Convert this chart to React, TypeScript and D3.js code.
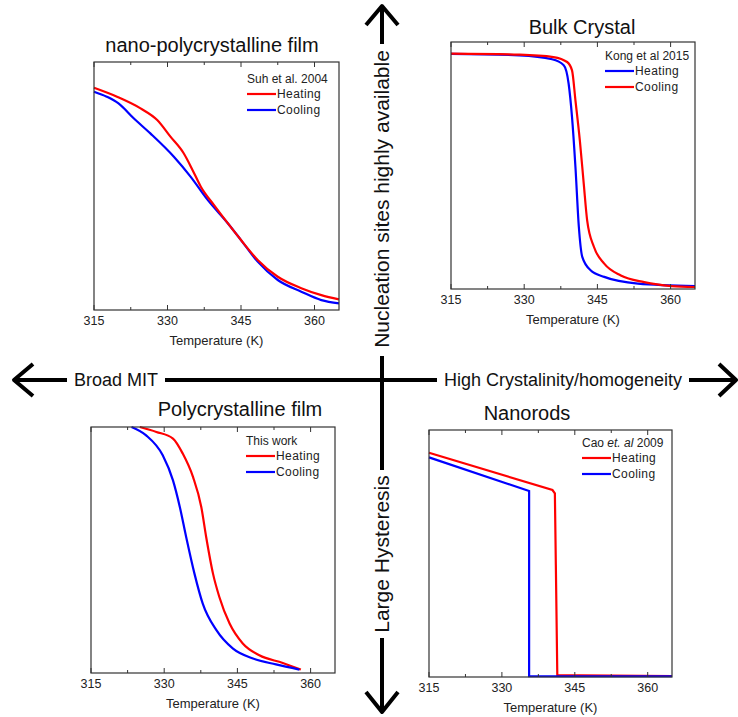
import * as d3 from "d3";

const FONT = "'Liberation Sans', Arial, sans-serif";

const tempTicks = [315, 330, 345, 360];
const minorTicks = [322.5, 337.5, 352.5];
const tempDomain: [number, number] = [315, 365];

// nano-polycrystalline film, Suh et al. 2004
const nanoHeatT = [315, 319.7, 324.5, 327.9, 330.6, 333.3, 335.1, 336.8, 339.5, 342.3, 345, 348.4, 352.5, 357.3, 361.4, 365];
const nanoHeatV = [0.896, 0.86, 0.813, 0.766, 0.699, 0.632, 0.565, 0.497, 0.423, 0.35, 0.282, 0.202, 0.134, 0.088, 0.06, 0.043];
const nanoCoolT = [315, 317.6, 320, 323.1, 326.5, 331.3, 334.7, 338.2, 342.3, 345, 348.4, 352.5, 357.3, 361.4, 365];
const nanoCoolV = [0.88, 0.86, 0.833, 0.773, 0.712, 0.618, 0.538, 0.444, 0.35, 0.282, 0.195, 0.121, 0.074, 0.04, 0.027];

// bulk crystal, Kong et al 2015
const bulkHeatT = [315, 329, 335.7, 338.1, 339.1, 339.8, 340.5, 341.2, 341.9, 343.6, 346.4, 353.3, 365];
const bulkHeatV = [0.952, 0.946, 0.93, 0.906, 0.832, 0.696, 0.494, 0.251, 0.13, 0.076, 0.049, 0.022, 0.012];
const bulkCoolT = [315, 329.1, 336, 338.8, 339.8, 340.5, 341.4, 342.2, 342.9, 344.3, 346.4, 349.8, 354.6, 360.2, 365];
const bulkCoolV = [0.953, 0.949, 0.939, 0.919, 0.885, 0.764, 0.602, 0.427, 0.278, 0.17, 0.103, 0.055, 0.028, 0.012, 0.008];

// polycrystalline film, this work
const polyHeatT = [325, 328.4, 331.8, 333.8, 335.9, 337.6, 338.6, 340, 341.3, 343.4, 346.1, 349.5, 354.3, 358];
const polyHeatV = [1.0, 0.98, 0.953, 0.892, 0.797, 0.675, 0.553, 0.404, 0.309, 0.201, 0.12, 0.072, 0.041, 0.014];
const polyCoolT = [323.3, 326.3, 329.7, 331.8, 333.2, 334.5, 336.2, 337.9, 340.7, 344.1, 348.2, 352.9, 357.7];
const polyCoolV = [1.0, 0.966, 0.885, 0.783, 0.675, 0.553, 0.404, 0.282, 0.174, 0.099, 0.059, 0.035, 0.014];

// nanorods, Cao et al 2009
const rodHeatT = [315, 340.4, 340.9, 341.1, 341.4, 346, 365];
const rodHeatV = [0.908, 0.757, 0.743, 0.453, 0.007, 0.007, 0.004];
const rodCoolT = [315, 335.6, 335.6, 365];
const rodCoolV = [0.889, 0.753, 0.003, 0.003];

type Series = { t: number[]; v: number[]; color: string };
type LegendItem = { label: string; color: string };

type PanelProps = {
  left: number;
  top: number;
  width: number;
  height: number;
  title: string;
  titleX: number;
  titleY: number;
  legendTitle: React.ReactNode;
  legendDx: number;
  legendDy: number;
  legendItems: LegendItem[];
  series: Series[];
  smooth: boolean;
};

function Panel(p: PanelProps) {
  const x = d3.scaleLinear().domain(tempDomain).range([p.left, p.left + p.width]);
  const y = d3.scaleLinear().domain([0, 1]).range([p.top + p.height, p.top]);
  const bottom = p.top + p.height;
  const lx = p.left + p.width - p.legendDx;
  const ly = p.top + p.legendDy;

  const line = d3
    .line<[number, number]>()
    .x(d => x(d[0]))
    .y(d => y(d[1]))
    .curve(p.smooth ? d3.curveMonotoneX : d3.curveLinear);

  return (
    <g>
      <text x={p.titleX} y={p.titleY} textAnchor="middle" fontSize={20} fill="#111">
        {p.title}
      </text>
      {p.series.map((s, i) => (
        <path
          key={i}
          d={line(s.t.map((t, k) => [t, s.v[k]] as [number, number])) ?? ""}
          fill="none"
          stroke={s.color}
          strokeWidth={2.2}
        />
      ))}
      <rect x={p.left} y={p.top} width={p.width} height={p.height} fill="none" stroke="#333" strokeWidth={1.2} />
      {tempTicks.map(t => (
        <g key={t}>
          <line x1={x(t)} x2={x(t)} y1={p.top} y2={p.top + 5} stroke="#333" />
          <line x1={x(t)} x2={x(t)} y1={bottom} y2={bottom - 5} stroke="#333" />
          <text x={x(t)} y={bottom + 15} textAnchor="middle" fontSize={12.5} fill="#222">
            {t}
          </text>
        </g>
      ))}
      {minorTicks.map(t => (
        <g key={t}>
          <line x1={x(t)} x2={x(t)} y1={p.top} y2={p.top + 3} stroke="#333" />
          <line x1={x(t)} x2={x(t)} y1={bottom} y2={bottom - 3} stroke="#333" />
        </g>
      ))}
      <text x={p.left + p.width / 2} y={bottom + 35} textAnchor="middle" fontSize={13} fill="#222">
        Temperature (K)
      </text>
      <text x={lx} y={ly + 4} fontSize={12} fill="#222">
        {p.legendTitle}
      </text>
      {p.legendItems.map((it, i) => (
        <g key={it.label}>
          <line x1={lx} x2={lx + 29} y1={ly + 15 + i * 16} y2={ly + 15 + i * 16} stroke={it.color} strokeWidth={2.2} />
          <text x={lx + 30} y={ly + 19 + i * 16} fontSize={12} fill="#222" letterSpacing={0.4}>
            {it.label}
          </text>
        </g>
      ))}
    </g>
  );
}

const RED = "#ff0000";
const BLUE = "#0000ff";

export default function App() {
  const cx = 382;
  const cy = 380;
  return (
    <svg
      width={738}
      height={717}
      style={{ position: "absolute", left: 0, top: 0, background: "#fff" }}
      fontFamily={FONT}
    >
      <rect width={738} height={717} fill="#fff" />
      {/* quadrant axes */}
      <g stroke="#000" strokeWidth={4} fill="none" strokeLinejoin="round">
        <line x1={14} x2={736} y1={cy} y2={cy} />
        <line x1={cx} x2={cx} y1={6} y2={712} />
        <polyline points={`33,364 14,${cy} 33,396`} />
        <polyline points={`719,364 736,${cy} 719,396`} />
        <polyline points={`${cx - 16},25 ${cx},6 ${cx + 16},25`} />
        <polyline points={`${cx - 16},692 ${cx},712 ${cx + 16},692`} />
      </g>
      <rect x={67} y={369} width={98} height={22} fill="#fff" />
      <text x={116} y={386} textAnchor="middle" fontSize={18} fill="#111">
        Broad MIT
      </text>
      <rect x={437} y={369} width={252} height={22} fill="#fff" />
      <text x={563} y={386} textAnchor="middle" fontSize={18} fill="#111">
        High Crystalinity/homogeneity
      </text>
      <rect x={cx - 12} y={44} width={24} height={312} fill="#fff" />
      <text transform={`translate(${cx + 7},199) rotate(-90)`} textAnchor="middle" fontSize={21} fill="#111">
        Nucleation sites highly available
      </text>
      <rect x={cx - 12} y={470} width={24} height={168} fill="#fff" />
      <text transform={`translate(${cx + 7},554) rotate(-90)`} textAnchor="middle" fontSize={21} fill="#111">
        Large Hysteresis
      </text>

      <Panel
        left={94}
        top={62}
        width={245}
        height={248}
        title="nano-polycrystalline film"
        titleX={212}
        titleY={52}
        legendTitle="Suh et al.  2004"
        legendDx={92}
        legendDy={17}
        legendItems={[
          { label: "Heating", color: RED },
          { label: "Cooling", color: BLUE },
        ]}
        series={[
          { t: nanoCoolT, v: nanoCoolV, color: BLUE },
          { t: nanoHeatT, v: nanoHeatV, color: RED },
        ]}
        smooth
      />
      <Panel
        left={451}
        top={42}
        width={244}
        height={247}
        title="Bulk Crystal"
        titleX={582}
        titleY={34}
        legendTitle="Kong et al 2015"
        legendDx={90}
        legendDy={14}
        legendItems={[
          { label: "Heating", color: BLUE },
          { label: "Cooling", color: RED },
        ]}
        series={[
          { t: bulkHeatT, v: bulkHeatV, color: BLUE },
          { t: bulkCoolT, v: bulkCoolV, color: RED },
        ]}
        smooth
      />
      <Panel
        left={91}
        top={427}
        width={244}
        height={246}
        title="Polycrystalline film"
        titleX={240}
        titleY={416}
        legendTitle="This work"
        legendDx={89}
        legendDy={14}
        legendItems={[
          { label: "Heating", color: RED },
          { label: "Cooling", color: BLUE },
        ]}
        series={[
          { t: polyHeatT, v: polyHeatV, color: RED },
          { t: polyCoolT, v: polyCoolV, color: BLUE },
        ]}
        smooth
      />
      <Panel
        left={429}
        top={430}
        width={243}
        height={247}
        title="Nanorods"
        titleX={527}
        titleY={420}
        legendTitle={
          <>
            Cao <tspan fontStyle="italic">et. al</tspan> 2009
          </>
        }
        legendDx={90}
        legendDy={13}
        legendItems={[
          { label: "Heating", color: RED },
          { label: "Cooling", color: BLUE },
        ]}
        series={[
          { t: rodHeatT, v: rodHeatV, color: RED },
          { t: rodCoolT, v: rodCoolV, color: BLUE },
        ]}
        smooth={false}
      />
    </svg>
  );
}
